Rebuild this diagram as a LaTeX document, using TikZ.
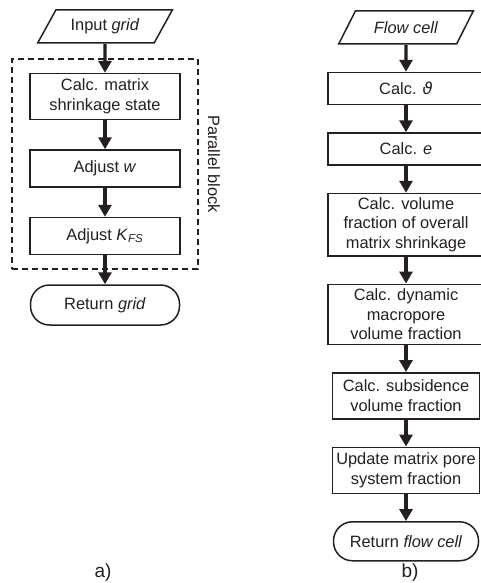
\documentclass[tikz,border=0pt]{standalone}
\usepackage{fontspec}
\setmainfont{Liberation Sans}
\newfontfamily\greekfont{DejaVu Sans}
\usepackage{tikz}
\usetikzlibrary{arrows.meta,positioning,shapes.geometric,fit}
\definecolor{inkgray}{rgb}{0.14,0.12,0.13}

\begin{document}
\begin{tikzpicture}[
      x=0.5pt,y=0.5pt,inkgray,
      node distance=13.5pt,
      box/.style={draw=inkgray,line width=0.75pt,minimum height=16pt,
                  inner xsep=2pt,inner ysep=2pt,
                  font=\fontsize{8.2}{9.75}\selectfont,align=center},
      io/.style={trapezium,trapezium left angle=55,trapezium right angle=125,
                 trapezium stretches=true,draw=inkgray,line width=0.75pt,
                 minimum width=67.5pt,minimum height=16.5pt,inner sep=1pt,
                 font=\fontsize{8.2}{9.75}\selectfont},
      term/.style={draw=inkgray,line width=0.75pt,rounded corners=9.5pt,
                   minimum height=19.5pt,font=\fontsize{8.2}{9.75}\selectfont},
      arr/.style={-{Triangle[width=6.5pt,length=6pt]},inkgray,line width=1.6pt},
      blockline/.style={draw=inkgray,line width=0.8pt,dash pattern=on 3pt off 2pt},
      sublabel/.style={font=\fontsize{9.5}{11}\selectfont}
    ]
      \useasboundingbox (0,0) rectangle (481,-583);
      % a) grid
      \node[io] (ingrid) at (105,-26.5) {Input \textit{grid}};
      \begin{scope}[node distance=14.5pt]
        \node[box,below=of ingrid,minimum width=75pt,minimum height=23pt] (shrink) {Calc. matrix\\shrinkage state};
        \node[box,below=of shrink,minimum width=75pt,minimum height=18.5pt] (adjw) {Adjust \textit{w}};
        \node[box,below=of adjw,minimum width=75pt,minimum height=18.5pt] (adjk) {Adjust \textit{K}\textsubscript{\textit{FS}}};
        \node[term,below=of adjk,minimum width=74.5pt,minimum height=20pt] (retgrid) {Return \textit{grid}};
      \end{scope}
      \node[blockline,fit=(shrink)(adjk),inner xsep=8.5pt,inner ysep=7pt] (parblock) {};
      \node[rotate=-90,anchor=south,inner sep=0pt,font=\fontsize{8.2}{9.75}\selectfont]
        (partext) at ([xshift=4.5pt]parblock.east) {Parallel block};
      \draw[arr] (ingrid)--(shrink);
      \draw[arr] (shrink)--(adjw);
      \draw[arr] (adjw)--(adjk);
      \draw[arr] (adjk)--(retgrid);
      % b) flow cell
      \node[io] (flow) at (406,-27.5) {\textit{Flow cell}};
      \node[box,below=of flow,minimum width=78pt] (theta) {Calc. {\greekfont\itshape ϑ}};
      \node[box,below=of theta,minimum width=78pt] (ecalc) {Calc. \textit{e}};
      \node[box,below=of ecalc,minimum width=78pt,minimum height=30pt] (volfrac) {Calc. volume\\fraction of overall\\matrix shrinkage};
      \node[box,below=of volfrac,minimum width=78pt,minimum height=30pt] (macro) {Calc. dynamic\\macropore\\volume fraction};
      \node[box,below=of macro,minimum width=73.5pt,minimum height=23pt] (subs) {Calc. subsidence\\volume fraction};
      \node[box,below=of subs,minimum width=73.5pt,minimum height=23pt] (update) {Update matrix pore\\system fraction};
      \node[term,below=of update,minimum width=72.5pt] (retflow) {Return \textit{flow cell}};
      \draw[arr] (flow)--(theta);
      \draw[arr] (theta)--(ecalc);
      \draw[arr] (ecalc)--(volfrac);
      \draw[arr] (volfrac)--(macro);
      \draw[arr] (macro)--(subs);
      \draw[arr] (subs)--(update);
      \draw[arr] (update)--(retflow);
      % captions
      \node[sublabel] (capa) at (103,-573) {a)};
      \node[sublabel] (capb) at (410,-573) {b)};
    \end{tikzpicture}
\end{document}
